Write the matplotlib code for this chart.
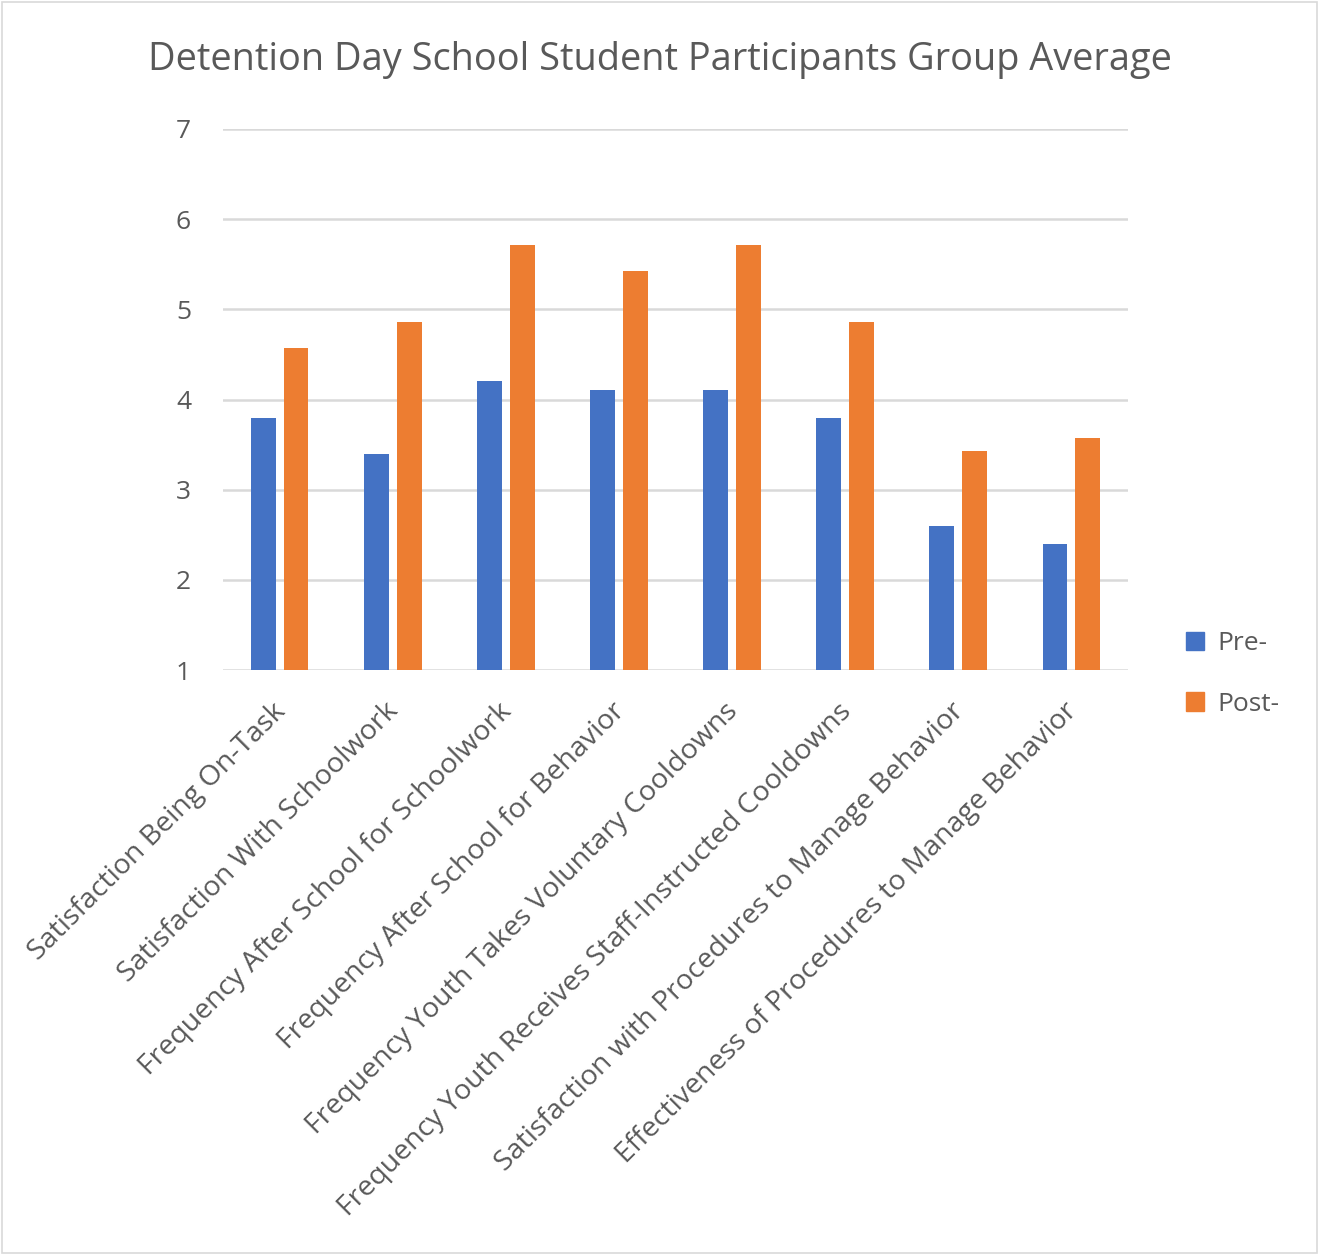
import matplotlib
matplotlib.use("Agg")
import matplotlib.pyplot as plt
import matplotlib.transforms as mtransforms
import numpy as np
from matplotlib.patches import Rectangle

categories = [
    "Satisfaction Being On-Task",
    "Satisfaction With Schoolwork",
    "Frequency After School for Schoolwork",
    "Frequency After School for Behavior",
    "Frequency Youth Takes Voluntary Cooldowns",
    "Frequency Youth Receives Staff-Instructed Cooldowns",
    "Satisfaction with Procedures to Manage Behavior",
    "Effectiveness of Procedures to Manage Behavior",
]
pre_values = [3.8, 3.4, 4.2, 4.1, 4.1, 3.8, 2.6, 2.4]
post_values = [4.57, 4.86, 5.71, 5.43, 5.71, 4.86, 3.43, 3.57]
y_ticks = [1, 2, 3, 4, 5, 6, 7]
series_names = ["Pre-", "Post-"]
title = "Detention Day School Student Participants Group Average"

plt.rcParams['font.family'] = ['Open Sans', 'DejaVu Sans']
text_color = "#595959"
blue = "#4472C4"
orange = "#ED7D31"

W, H = 1319, 1255
fig = plt.figure(figsize=(W / 100, H / 100), dpi=100)
ax = fig.add_axes([223 / W, 1 - 670 / H, (1128 - 223) / W, (670 - 129) / H])

x = np.arange(len(categories))
bw = 0.22
off = 0.145
ax.bar(x - off, np.array(pre_values) - 1, bw, bottom=1, color=blue, label=series_names[0], zorder=3)
ax.bar(x + off, np.array(post_values) - 1, bw, bottom=1, color=orange, label=series_names[1], zorder=3)

ax.set_xlim(-0.5, len(categories) - 0.5)
ax.set_ylim(1, 7)
ax.set_yticks(y_ticks)
ax.yaxis.grid(True, color="#d9d9d9", linewidth=1.8, zorder=0)
ax.set_axisbelow(True)
for s in ax.spines.values():
    s.set_visible(False)
ax.tick_params(axis="both", length=0, colors=text_color)
ax.tick_params(axis="y", pad=23, labelsize=19)
ax.set_xticks(x)
ax.set_xticklabels(categories, rotation=45, ha="right", rotation_mode="anchor", fontsize=20.5, color=text_color)
ax.tick_params(axis="x", pad=14)
shift = mtransforms.ScaledTranslation(-8 / 100, -8 / 100, fig.dpi_scale_trans)
for lbl in ax.get_xticklabels():
    lbl.set_transform(lbl.get_transform() + shift)

fig.text(660 / W, 1 - 60 / H, title, ha="center", va="center", fontsize=27.3, color=text_color)

handles = [Rectangle((0, 0), 1, 1, color=blue), Rectangle((0, 0), 1, 1, color=orange)]
fig.legend(handles, series_names, loc="center left", bbox_to_anchor=(1162 / W, 1 - 674 / H),
           frameon=False, fontsize=19, labelcolor=text_color, handlelength=0.7, handleheight=0.7,
           handletextpad=0.5, labelspacing=1.35)

fig.patches.append(Rectangle((2 / W, 2 / H), (W - 4) / W, (H - 4) / H, transform=fig.transFigure,
                             fill=False, edgecolor="#d9d9d9", linewidth=1.2))

fig.savefig("out.png", dpi=100)
